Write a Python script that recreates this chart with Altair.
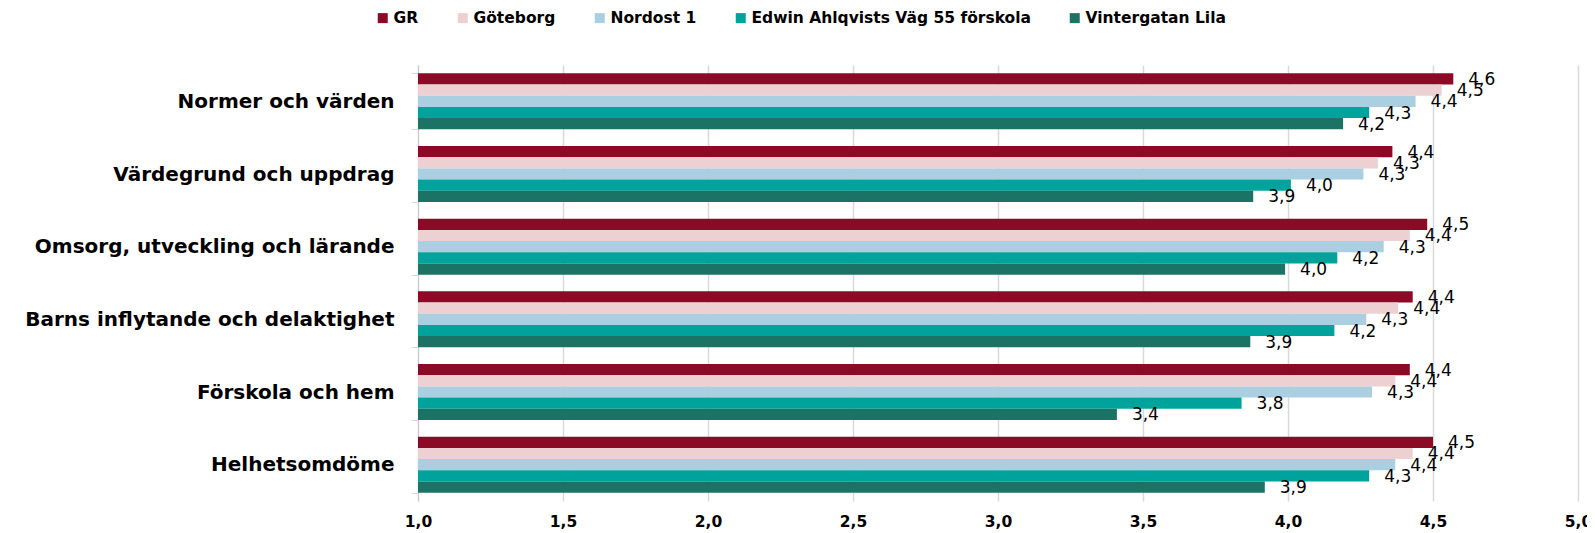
import altair as alt
import pandas as pd

categories = ["Normer och värden", "Värdegrund och uppdrag", "Omsorg, utveckling och lärande",
              "Barns inflytande och delaktighet ", "Förskola och hem ", "Helhetsomdöme"]
series = ["GR", "Göteborg", "Nordost 1", "Edwin Ahlqvists Väg 55 förskola", "Vintergatan Lila"]
colors = ["#8C0A25", "#EDD0D2", "#A9CFE1", "#00A39B", "#1B7366"]

gr = [4.57, 4.36, 4.48, 4.43, 4.42, 4.50]
goteborg = [4.53, 4.31, 4.42, 4.38, 4.37, 4.43]
nordost = [4.44, 4.26, 4.33, 4.27, 4.29, 4.37]
edwin = [4.28, 4.01, 4.17, 4.16, 3.84, 4.28]
vintergatan = [4.19, 3.88, 3.99, 3.87, 3.41, 3.92]

x_ticks = [1.0, 1.5, 2.0, 2.5, 3.0, 3.5, 4.0, 4.5, 5.0]

rows = []
for s, vals in zip(series, [gr, goteborg, nordost, edwin, vintergatan]):
    for c, v in zip(categories, vals):
        rows.append({"kategori": c, "serie": s, "varde": v})
df = pd.DataFrame(rows)

FONT = "DejaVu Sans"

x_scale = alt.Scale(domain=[1, 5], zero=False, nice=False)
x_axis = alt.Axis(values=x_ticks, grid=True, gridColor="#d9d9d9", gridWidth=1.5,
                  domain=False, ticks=False, labelPadding=13, labelFlush=False,
                  labelFont=FONT, labelFontSize=15.5, labelFontWeight="bold",
                  labelColor="#000000",
                  labelExpr="replace(format(datum.value, '.1f'), '.', ',')")
x_enc = alt.X("varde:Q", title=None, scale=x_scale, axis=x_axis)

base = alt.Chart(df).encode(
    x=x_enc,
    y=alt.Y("kategori:N", sort=categories, title=None,
            scale=alt.Scale(paddingInner=0.23, paddingOuter=0.115),
            axis=alt.Axis(labelFont=FONT, labelFontSize=20, labelFontWeight="bold",
                          labelColor="#000000", labelPadding=17, tickBand="extent",
                          tickSize=7, tickColor="#d9d9d9", domainColor="#c8c8c8",
                          labelLimit=500, grid=False)),
    yOffset=alt.YOffset("serie:N", sort=series,
                        scale=alt.Scale(paddingInner=0, paddingOuter=0)),
)

bars = base.mark_bar().encode(
    x2=alt.datum(1),
    color=alt.Color("serie:N", sort=series,
                    scale=alt.Scale(domain=series, range=colors),
                    legend=alt.Legend(title=None, orient="none", direction="horizontal",
                                      legendX=-43, legendY=-55,
                                      symbolType="square", symbolSize=100,
                                      symbolStrokeWidth=0, labelOffset=3,
                                      columnPadding=36, labelFont=FONT,
                                      labelFontSize=15.5, labelFontWeight="bold",
                                      labelColor="#000000", labelLimit=400)),
)

labels = base.mark_text(align="left", baseline="middle", dx=15, dy=1,
                        font=FONT, fontSize=17, color="#000000").encode(
    text=alt.Text("etikett:N"),
).transform_calculate(
    etikett="replace(format(datum.varde, '.1f'), '.', ',')"
)

chart = alt.layer(bars, labels).properties(
    width=1160, height=436,
    autosize="none",
    padding={"left": 410, "top": 57, "right": 9, "bottom": 28},
    background="#ffffff",
).configure_view(stroke=None)

chart.save("out.html", embed_options={"renderer": "svg", "actions": False})
